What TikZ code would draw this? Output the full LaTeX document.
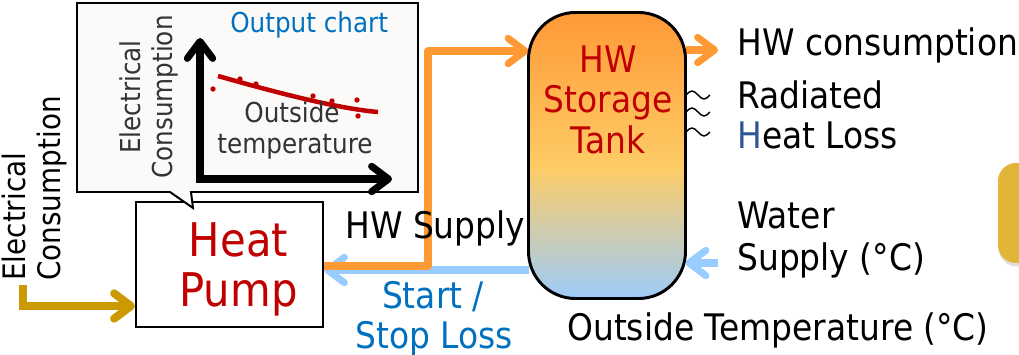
\documentclass[tikz,border=0pt]{standalone}
\usepackage{fontspec}
\setmainfont{DejaVu Sans}[FakeStretch=0.9]
\usetikzlibrary{arrows.meta,shadows}

\definecolor{hwred}{HTML}{C00000}
\definecolor{hwblue}{HTML}{0070C0}
\definecolor{lossblue}{HTML}{2F5597}
\definecolor{hotline}{HTML}{FF9933}
\definecolor{coldline}{HTML}{99CCFF}
\definecolor{powerline}{HTML}{CC9900}
\definecolor{chartgray}{HTML}{333333}
\definecolor{calloutfill}{HTML}{FBFAF8}
\definecolor{tabgold}{HTML}{E2B538}
\definecolor{tankbottom}{HTML}{9DCCFA}
\definecolor{tankmid}{HTML}{FECC66}
\definecolor{tanktop}{HTML}{FE9936}

% water temperature layering inside the tank, cold at the bottom
\pgfdeclareverticalshading{tankshade}{100bp}{%
  color(0bp)=(tankbottom); color(25bp)=(tankbottom);
  color(48bp)=(tankmid); color(75bp)=(tanktop); color(100bp)=(tanktop)}

\tikzset{
  lbl/.style={inner sep=0pt, font=\fontsize{26}{30}\selectfont},
  hptxt/.style={inner sep=0pt, text=hwred, font=\fontsize{33}{38}\selectfont},
  tanktxt/.style={inner sep=0pt, text=hwred, font=\fontsize{26}{30}\selectfont},
  charttxt/.style={inner sep=0pt, text=chartgray, font=\fontsize{19.5}{23}\selectfont},
  sidetxt/.style={inner sep=0pt, font=\fontsize{22}{26}\selectfont},
  barb/.tip={Straight Barb[length=12pt,width=18pt,round]},
  flow/.style={line width=5pt, line join=round, -barb},
  axisline/.style={line width=5pt, line join=miter, barb-barb},
}

\begin{document}
\begin{tikzpicture}[x=0.025cm, y=-0.025cm]
\useasboundingbox (0,0) rectangle (1019,355);

% gold tab at the right edge
\path[fill=tabgold, rounded corners=0.45cm,
      drop shadow={shadow xshift=0.5pt, shadow yshift=-2.5pt, opacity=0.25}]
  (998,163) rectangle (1045,263);

% heat pump
\node (hp) [draw, line width=1.4pt, fill=white, inner sep=0pt,
            minimum width=4.675cm, minimum height=3.125cm] at (229.5,264.5) {};
\node[hptxt, anchor=base] (hp1) at (238.5,256) {Heat};
\node[hptxt, anchor=base] (hp2) at (238.5,306) {Pump};

% output chart callout
\path[draw=black, line width=1.4pt, fill=calloutfill, line join=miter]
  (77,3) -- (418,3) -- (418,192) -- (191,192) -- (193,208) -- (170,192)
  -- (77,192) -- cycle;
\node[inner sep=0pt, anchor=base west, text=hwblue,
      font=\fontsize{19.5}{23}\selectfont] (chartttl) at (230,32) {Output chart};
\draw[axisline] (200,38) -- (200,179) -- (392,179);
\draw[hwred, line width=3.2pt] (218,76) .. controls (250,85) and (330,108) .. (378,112);
\foreach \px/\py in {213/89, 240/79, 256/84, 313/96, 332/101, 357/100, 358/116}
  \fill[hwred] (\px,\py) circle (1.9pt);
\node[charttxt, rotate=90, anchor=base] (cy1) at (140,97) {Electrical};
\node[charttxt, rotate=90, anchor=base] (cy2) at (172,97) {Consumption};
\node[charttxt, anchor=base] (cx1) at (292,122) {Outside};
\node[charttxt, anchor=base] (cx2) at (295,153) {temperature};

% electrical input
\node[sidetxt, rotate=90, anchor=base west] (el1) at (25,281) {Electrical};
\node[sidetxt, rotate=90, anchor=base west] (el2) at (60,281) {Consumption};
\coordinate (pwr) at (23,285);
\draw[powerline, line width=5.7pt, -barb] (pwr) |- (hp.west |- 0,306);

% return and supply lines between heat pump and tank
\node (tank) [line width=2.1pt, rounded corners=1.175cm, inner sep=0pt,
              minimum width=3.85cm, minimum height=7.075cm] at (607,155.5) {};
\draw[coldline, flow] (tank.west |- 0,270) -- (hp.east |- 0,270);
\draw[hotline, flow] (hp.east |- 0,266) -- (428,266) -- (428,51) -- (tank.west |- 0,51);
\coordinate (hwout) at (718,50);
\draw[hotline, flow] (tank.east |- 0,50) -- (hwout);
\coordinate (wsin) at (718,263);
\draw[coldline, flow] (wsin) -- (tank.east |- 0,263);

% storage tank
\path[draw, line width=2.1pt, rounded corners=1.175cm, shade, shading=tankshade]
  (tank.south west) rectangle (tank.north east);
\node[tanktxt, anchor=base] (tk1) at (608,72) {HW};
\node[tanktxt, anchor=base] (tk2) at (608,112) {Storage};
\node[tanktxt, anchor=base] (tk3) at (608,153) {Tank};

% radiated heat
\foreach \wy in {95,112,132}
  \draw[line width=1pt] (686,\wy) sin (692,\wy-4) cos (698,\wy) sin (704,\wy+4) cos (710,\wy);

% labels
\node[lbl, anchor=base west] (hwc) at (737,55) {HW consumption};
\node[lbl, anchor=base west] (rad1) at (737,108) {Radiated};
\node[lbl, anchor=base west] (rad2) at (737,148) {{\color{lossblue}H}eat Loss};
\node[lbl, anchor=base west] (ws1) at (737,228) {Water};
\node[lbl, anchor=base west] (ws2) at (737,270) {Supply (°C)};
\node[lbl, anchor=base west] (otemp) at (567,340) {Outside Temperature (°C)};
\node[lbl, anchor=base west] (hws) at (345,238) {HW Supply};
\node[lbl, anchor=base, text=hwblue] (ss1) at (433,308) {Start /};
\node[lbl, anchor=base, text=hwblue] (ss2) at (434,348) {Stop Loss};
\end{tikzpicture}
\end{document}
